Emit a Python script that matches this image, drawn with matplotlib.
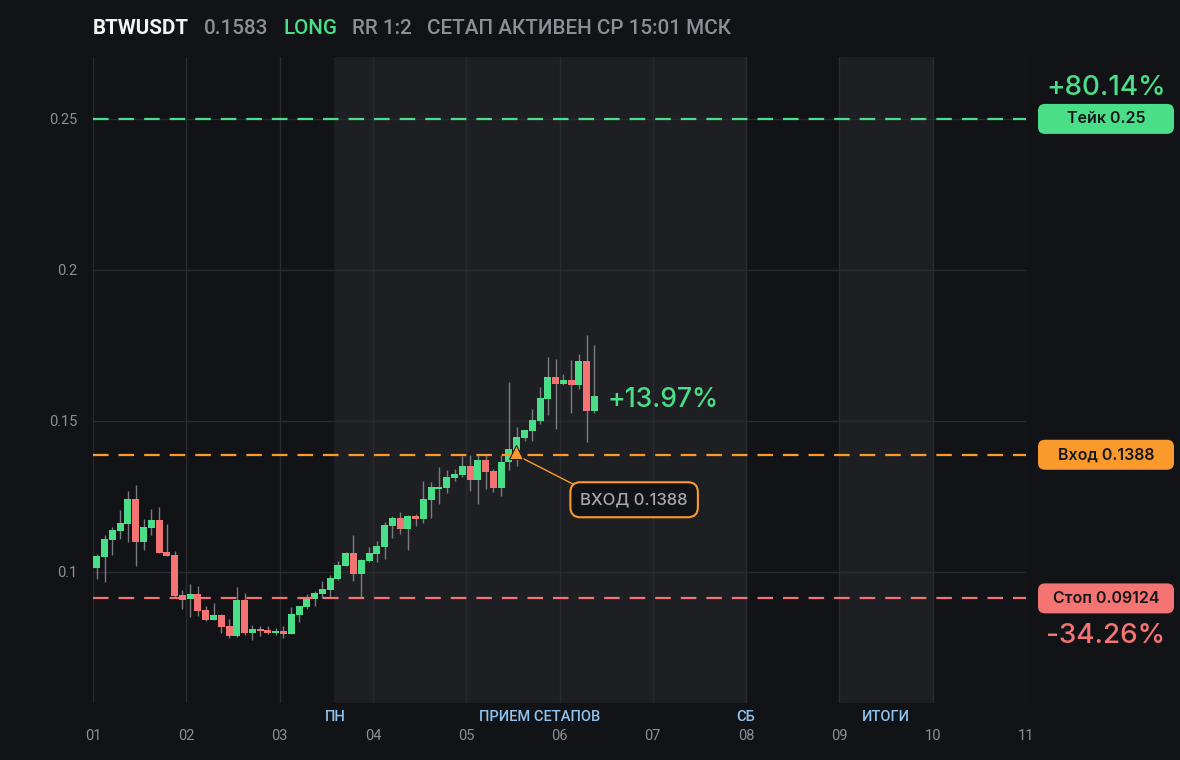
import matplotlib
matplotlib.use("Agg")
import matplotlib.pyplot as plt
import numpy as np
from matplotlib.patches import FancyBboxPatch

# ---------------- data ----------------
opens = [0.1014, 0.1051, 0.1106, 0.1136, 0.1160, 0.1242, 0.1100, 0.1147, 0.1172, 0.1066,
         0.1056, 0.0924, 0.0909, 0.0927, 0.0874, 0.0841, 0.0858, 0.0821, 0.0789, 0.0907,
         0.0798, 0.0811, 0.0808, 0.0798, 0.0805, 0.0795, 0.0858, 0.0884, 0.0911, 0.0927,
         0.0940, 0.0977, 0.1020, 0.1063, 0.0993, 0.1036, 0.1060, 0.1083, 0.1152, 0.1179,
         0.1142, 0.1185, 0.1175, 0.1238, 0.1275, 0.1278, 0.1311, 0.1321, 0.1351, 0.1305,
         0.1371, 0.1334, 0.1278, 0.1364, 0.1404, 0.1444, 0.1467, 0.1500, 0.1573, 0.1646,
         0.1623, 0.1636, 0.1619, 0.1699, 0.1533]
closes = [0.1053, 0.1109, 0.1139, 0.1162, 0.1242, 0.1100, 0.1149, 0.1172, 0.1064, 0.1054,
          0.0921, 0.0907, 0.0927, 0.0872, 0.0841, 0.0858, 0.0818, 0.0789, 0.0907, 0.0798,
          0.0811, 0.0805, 0.0798, 0.0805, 0.0795, 0.0861, 0.0887, 0.0914, 0.0930, 0.0944,
          0.0980, 0.1023, 0.1063, 0.0993, 0.1040, 0.1063, 0.1086, 0.1156, 0.1179, 0.1142,
          0.1185, 0.1175, 0.1242, 0.1281, 0.1281, 0.1315, 0.1325, 0.1351, 0.1305, 0.1371,
          0.1331, 0.1278, 0.1364, 0.1407, 0.1447, 0.1470, 0.1503, 0.1576, 0.1646, 0.1623,
          0.1636, 0.1619, 0.1699, 0.1533, 0.1583]
highs = [0.1060, 0.1123, 0.1148, 0.1205, 0.1268, 0.1288, 0.1175, 0.1209, 0.1215, 0.1159,
         0.1070, 0.0940, 0.0960, 0.0954, 0.0887, 0.0897, 0.0861, 0.0844, 0.0950, 0.0930,
         0.0824, 0.0821, 0.0821, 0.0815, 0.0821, 0.0884, 0.0887, 0.0927, 0.0937, 0.0970,
         0.0990, 0.1036, 0.1066, 0.1123, 0.1043, 0.1083, 0.1103, 0.1166, 0.1185, 0.1199,
         0.1189, 0.1192, 0.1301, 0.1298, 0.1348, 0.1338, 0.1341, 0.1384, 0.1387, 0.1387,
         0.1387, 0.1341, 0.1387, 0.1629, 0.1480, 0.1470, 0.1540, 0.1613, 0.1712, 0.1705,
         0.1656, 0.1702, 0.1722, 0.1785, 0.1752]
lows = [0.0978, 0.0965, 0.1057, 0.1109, 0.1100, 0.1021, 0.1071, 0.1123, 0.1064, 0.1054,
        0.0913, 0.0877, 0.0852, 0.0854, 0.0838, 0.0841, 0.0798, 0.0781, 0.0786, 0.0791,
        0.0775, 0.0788, 0.0795, 0.0792, 0.0781, 0.0795, 0.0834, 0.0877, 0.0887, 0.0913,
        0.0918, 0.0974, 0.1020, 0.0970, 0.0914, 0.1033, 0.1033, 0.1043, 0.1113, 0.1126,
        0.1073, 0.1152, 0.1162, 0.1179, 0.1225, 0.1262, 0.1301, 0.1315, 0.1268, 0.1225,
        0.1275, 0.1265, 0.1252, 0.1336, 0.1352, 0.1434, 0.1434, 0.1490, 0.1520, 0.1474,
        0.1619, 0.1526, 0.1606, 0.1430, 0.1526]

candle_hours = 2
start_day = 1
day_ticks = [1, 2, 3, 4, 5, 6, 7, 8, 9, 10, 11]
day_labels = ["01", "02", "03", "04", "05", "06", "07", "08", "09", "10", "11"]
y_ticks = [0.1, 0.15, 0.2, 0.25]
y_labels = ["0.1", "0.15", "0.2", "0.25"]

symbol = "BTWUSDT"
last_price = "0.1583"
side = "LONG"
rr_text = "RR 1:2"
status_text = "СЕТАП АКТИВЕН СР 15:01 МСК"

take_price = 0.25
entry_price = 0.1388
stop_price = 0.09124
take_pct = "+80.14%"
stop_pct = "-34.26%"
current_pct = "+13.97%"
entry_time = 5.53

phase_spans = [(3.58, 8.0), (9.0, 10.0)]
phase_labels = [("ПН", 3.6), ("ПРИЕМ СЕТАПОВ", 5.79), ("СБ", 8.0), ("ИТОГИ", 9.5)]

# ---------------- style ----------------
BG = "#121317"
SHADE = "#1e1f23"
GRID = "#2a2b30"
GREEN = "#4ade88"
RED = "#f47373"
ORANGE = "#fb9a2c"
WICK = "#7a7b80"
TICK = "#8c8f96"
BLUE = "#8ec3f2"
INTER = ["Inter", "DejaVu Sans"]

plt.rcParams["font.family"] = ["Roboto", "DejaVu Sans"]

fig = plt.figure(figsize=(11.8, 7.6), dpi=100, facecolor=BG)
ax = fig.add_axes([93 / 1180, 1 - 703 / 760, (1026 - 93) / 1180, (703 - 57) / 760])
ax.set_facecolor(BG)
ax.set_xlim(1, 11)
ax.set_ylim(0.0566, 0.2705)

for a, b in phase_spans:
    ax.axvspan(a, b, color=SHADE, zorder=0, lw=0)

for d in day_ticks:
    ax.axvline(d, color=GRID, lw=1, zorder=1)
for yv in y_ticks:
    ax.axhline(yv, color=GRID, lw=1, zorder=1)

for s in ax.spines.values():
    s.set_visible(False)
ax.set_xticks(day_ticks)
ax.set_xticklabels(day_labels)
ax.set_yticks(y_ticks)
ax.set_yticklabels(y_labels)
ax.tick_params(axis="both", length=0, colors=TICK, labelsize=10.5)
ax.tick_params(axis="x", pad=19)
ax.tick_params(axis="y", pad=11)

# candles
o = np.array(opens); c = np.array(closes); h = np.array(highs); l = np.array(lows)
t = start_day + (np.arange(len(o)) + 0.5) * candle_hours / 24
step = candle_hours / 24
cols = np.where(c >= o, GREEN, RED)
ax.vlines(t, l, h, color=WICK, lw=1, zorder=2)
body_bottom = np.minimum(o, c)
body_h = np.maximum(np.abs(c - o), 0.0003)
ax.bar(t, body_h, bottom=body_bottom, width=step * 0.9, color=cols, zorder=3, lw=0)

# level lines
ax.axhline(take_price, color=GREEN, lw=1.6, ls=(0, (7, 4.5)), zorder=4)
ax.axhline(entry_price, color=ORANGE, lw=1.6, ls=(0, (7, 4.5)), zorder=4)
ax.axhline(stop_price, color=RED, lw=1.6, ls=(0, (7, 4.5)), zorder=4)

# entry marker + annotation
ax.annotate("ВХОД 0.1388", xy=(entry_time, entry_price), xytext=(6.8, 0.1239),
            ha="center", va="center", fontsize=12, color="#a7a9ae", family=INTER,
            fontweight="medium",
            bbox=dict(boxstyle="round,pad=0.6,rounding_size=0.6", fc=BG, ec=ORANGE, lw=1.5),
            arrowprops=dict(arrowstyle="-", color=ORANGE, lw=1, shrinkA=0, shrinkB=0,
                            relpos=(0.08, 1.0)), zorder=6)
ax.plot([entry_time], [entry_price + 0.0009], marker="^", ms=10, color=ORANGE,
        mec="#222", mew=0.8, zorder=7, clip_on=False)

ax.text(t[-1] + 0.14, 0.1570, current_pct, color=GREEN, fontsize=19, fontweight="medium",
        va="center", ha="left", zorder=6, family=INTER)

# right labels
def right_box(yv, text, color):
    yfig = ax.transData.transform((0, yv))[1]
    yfrac = yfig / 760
    x0 = 1038 / 1180
    w = 136 / 1180
    hh = 30 / 760
    p = FancyBboxPatch((x0, yfrac - hh / 2), w, hh, boxstyle="round,pad=0,rounding_size=0.006",
                       transform=fig.transFigure, fc=color, ec="none",
                       mutation_aspect=1180 / 760)
    fig.patches.append(p)
    fig.text(x0 + w / 2, yfrac, text, ha="center", va="center", fontsize=11.5,
             fontweight="semibold", color="#16171a", family=INTER)
    return yfrac

yt = right_box(take_price, "Тейк 0.25", GREEN)
ye = right_box(entry_price, "Вход 0.1388", ORANGE)
ys = right_box(stop_price, "Стоп 0.09124", RED)
fig.text(1106 / 1180, 1 - 88 / 760, take_pct, ha="center", va="center", fontsize=20,
         fontweight="medium", color=GREEN, family=INTER)
fig.text(1106 / 1180, 1 - 636 / 760, stop_pct, ha="center", va="center", fontsize=20,
         fontweight="medium", color=RED, family=INTER)

# phase labels
for txt, xv in phase_labels:
    ax.text(xv, -0.022, txt, transform=ax.get_xaxis_transform(), ha="center", va="center",
            fontsize=10.5, fontweight="medium", color=BLUE)

# header
fig.canvas.draw()
renderer = fig.canvas.get_renderer()
parts = [(symbol, "#f2f3f5", "bold"), (last_price, "#8c8f96", "medium"),
         (side, GREEN, "medium"), (rr_text, "#8c8f96", "medium"),
         (status_text, "#8c8f96", "medium")]
xpix = 93
for txt, col, wt in parts:
    tt = fig.text(xpix / 1180, 1 - 28 / 760, txt, ha="left", va="center", fontsize=14.9,
                  fontweight=wt, color=col)
    bb = tt.get_window_extent(renderer)
    xpix = bb.x1 + 15

fig.savefig("out.png", dpi=100, facecolor=BG)
